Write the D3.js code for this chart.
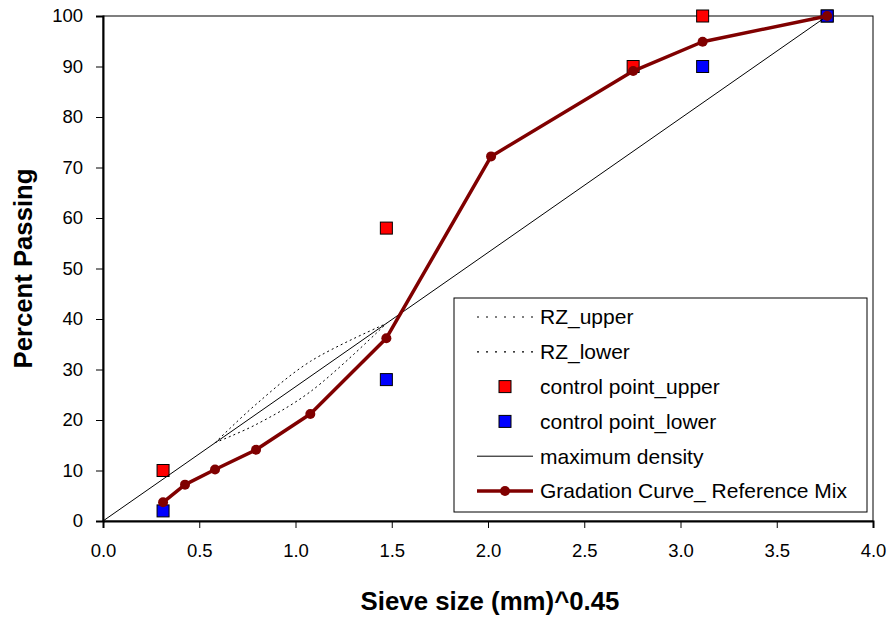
<!DOCTYPE html>
<html>
<head>
<meta charset="utf-8">
<script src="https://cdn.jsdelivr.net/npm/d3@7"></script>
<style>
  body { margin: 0; background: #fff; }
  svg { font-family: "Liberation Sans", Arial, sans-serif; }
</style>
</head>
<body>
<svg></svg>
<script>
// sieve sizes raised to 0.45 (0.075 .. 19 mm)
const sieveX = [0.312, 0.426, 0.582, 0.795, 1.077, 1.472, 2.016, 2.754, 3.115, 3.762];
const gradation = [3.7, 7.2, 10.2, 14.1, 21.2, 36.2, 72.2, 89.1, 94.9, 100];

// restricted zone
const rzX = [0.582, 0.795, 1.077, 1.472];
const rzUpper = [15.5, 23.1, 31.6, 39.1];
const rzLower = [15.5, 19.1, 25.6, 39.1];

// control points
const cpUpperX = [0.312, 1.472, 2.754, 3.115, 3.762];
const cpUpperY = [10, 58, 90, 100, 100];
const cpLowerX = [0.312, 1.472, 3.115, 3.762];
const cpLowerY = [2, 28, 90, 100];

// maximum density line
const maxDensX = [0, 3.762];
const maxDensY = [0, 100];

const xTicks = [0, 0.5, 1, 1.5, 2, 2.5, 3, 3.5, 4];
const yTicks = [0, 10, 20, 30, 40, 50, 60, 70, 80, 90, 100];

const legendLabels = ["RZ_upper", "RZ_lower", "control point_upper", "control point_lower",
  "maximum density", "Gradation Curve_ Reference Mix"];

// ------------------- SVG ----------------------
const svgW = 890, svgH = 617;
const plotL = 103, plotR = 873, plotT = 16, plotB = 521;

const svg = d3.select("svg")
    .attr("width", svgW)
    .attr("height", svgH);

const xScale = d3.scaleLinear().domain([0, 4]).range([plotL, plotR]);
const yScale = d3.scaleLinear().domain([0, 100]).range([plotB, plotT]);

const zip = (xs, ys) => xs.map((x, i) => ({x: x, y: ys[i]}));

// plot frame
svg.append("rect")
    .attr("x", plotL).attr("y", plotT)
    .attr("width", plotR - plotL).attr("height", plotB - plotT)
    .attr("fill", "none").attr("stroke", "#000").attr("stroke-width", 1);

// axes
const xAxis = svg.append("g")
    .attr("transform", `translate(0,${plotB})`)
    .call(d3.axisBottom(xScale).tickValues(xTicks).tickFormat(d3.format(".1f")).tickSize(7).tickPadding(16));
const yAxis = svg.append("g")
    .attr("transform", `translate(${plotL},0)`)
    .call(d3.axisLeft(yScale).tickValues(yTicks).tickSize(7).tickPadding(13));

[xAxis, yAxis].forEach(a => {
    a.select(".domain").attr("stroke", "#000").attr("stroke-width", 2);
    a.selectAll(".tick line").attr("stroke", "#000").attr("stroke-width", 1);
    a.selectAll(".tick text")
        .attr("fill", "#000")
        .style("font-size", "18.5px")
        .style("font-family", "Liberation Sans, Arial, sans-serif");
});

// axis titles
svg.append("text")
    .attr("x", (plotL + plotR) / 2 + 2).attr("y", 610)
    .attr("text-anchor", "middle")
    .style("font-size", "25.8px").style("font-weight", "bold")
    .text("Sieve size (mm)^0.45");

svg.append("text")
    .attr("transform", `translate(32,${(plotT + plotB) / 2}) rotate(-90)`)
    .attr("text-anchor", "middle")
    .style("font-size", "25.7px").style("font-weight", "bold")
    .text("Percent Passing");

// ----- lines -----
const smooth = d3.line().x(d => xScale(d.x)).y(d => yScale(d.y)).curve(d3.curveCatmullRom.alpha(0.5));
const straight = d3.line().x(d => xScale(d.x)).y(d => yScale(d.y));

svg.append("path")
    .attr("d", smooth(zip(rzX, rzUpper)))
    .attr("fill", "none").attr("stroke", "#000").attr("stroke-width", 1)
    .attr("stroke-dasharray", "2,3");
svg.append("path")
    .attr("d", smooth(zip(rzX, rzLower)))
    .attr("fill", "none").attr("stroke", "#000").attr("stroke-width", 1)
    .attr("stroke-dasharray", "2,3");

const sq = 12;
svg.append("g").selectAll("rect")
    .data(zip(cpUpperX, cpUpperY))
    .enter().append("rect")
    .attr("x", d => xScale(d.x) - sq / 2)
    .attr("y", d => yScale(d.y) - sq / 2)
    .attr("width", sq).attr("height", sq)
    .attr("fill", "#ff0000").attr("stroke", "#000").attr("stroke-width", 1);

svg.append("g").selectAll("rect")
    .data(zip(cpLowerX, cpLowerY))
    .enter().append("rect")
    .attr("x", d => xScale(d.x) - sq / 2)
    .attr("y", d => yScale(d.y) - sq / 2)
    .attr("width", sq).attr("height", sq)
    .attr("fill", "#0000ff").attr("stroke", "#000").attr("stroke-width", 1);

svg.append("path")
    .attr("d", straight(zip(maxDensX, maxDensY)))
    .attr("fill", "none").attr("stroke", "#000").attr("stroke-width", 1);

const gradColor = "#800000";
svg.append("path")
    .attr("d", straight(zip(sieveX, gradation)))
    .attr("fill", "none").attr("stroke", gradColor).attr("stroke-width", 3.5)
    .attr("stroke-linejoin", "round");
svg.append("g").selectAll("circle")
    .data(zip(sieveX, gradation))
    .enter().append("circle")
    .attr("cx", d => xScale(d.x)).attr("cy", d => yScale(d.y))
    .attr("r", 5)
    .attr("fill", gradColor);

// ----- legend -----
const legend = svg.append("g");
legend.append("rect")
    .attr("x", 454).attr("y", 298).attr("width", 413).attr("height", 214)
    .attr("fill", "#fff").attr("stroke", "#000").attr("stroke-width", 1);

const rowY = i => 317 + i * 34.8;
const sx1 = 477, sx2 = 533, sxm = 505;

legendLabels.forEach((lab, i) => {
    const y = rowY(i);
    const g = legend.append("g");
    if (i < 2) {
        g.append("line").attr("x1", sx1).attr("x2", sx2).attr("y1", y).attr("y2", y)
            .attr("stroke", "#000").attr("stroke-width", 1.2).attr("stroke-dasharray", "2,7");
    } else if (i < 4) {
        g.append("rect").attr("x", sxm - 6).attr("y", y - 6).attr("width", 12).attr("height", 12)
            .attr("fill", i == 2 ? "#ff0000" : "#0000ff").attr("stroke", "#000");
    } else if (i == 4) {
        g.append("line").attr("x1", sx1).attr("x2", sx2).attr("y1", y).attr("y2", y)
            .attr("stroke", "#000").attr("stroke-width", 1);
    } else {
        g.append("line").attr("x1", sx1).attr("x2", sx2).attr("y1", y).attr("y2", y)
            .attr("stroke", gradColor).attr("stroke-width", 3.5);
        g.append("circle").attr("cx", sxm).attr("cy", y).attr("r", 5).attr("fill", gradColor);
    }
    g.append("text")
        .attr("x", 540).attr("y", y).attr("dy", "0.35em")
        .style("font-size", "21px")
        .text(lab);
});
</script>
</body>
</html>
